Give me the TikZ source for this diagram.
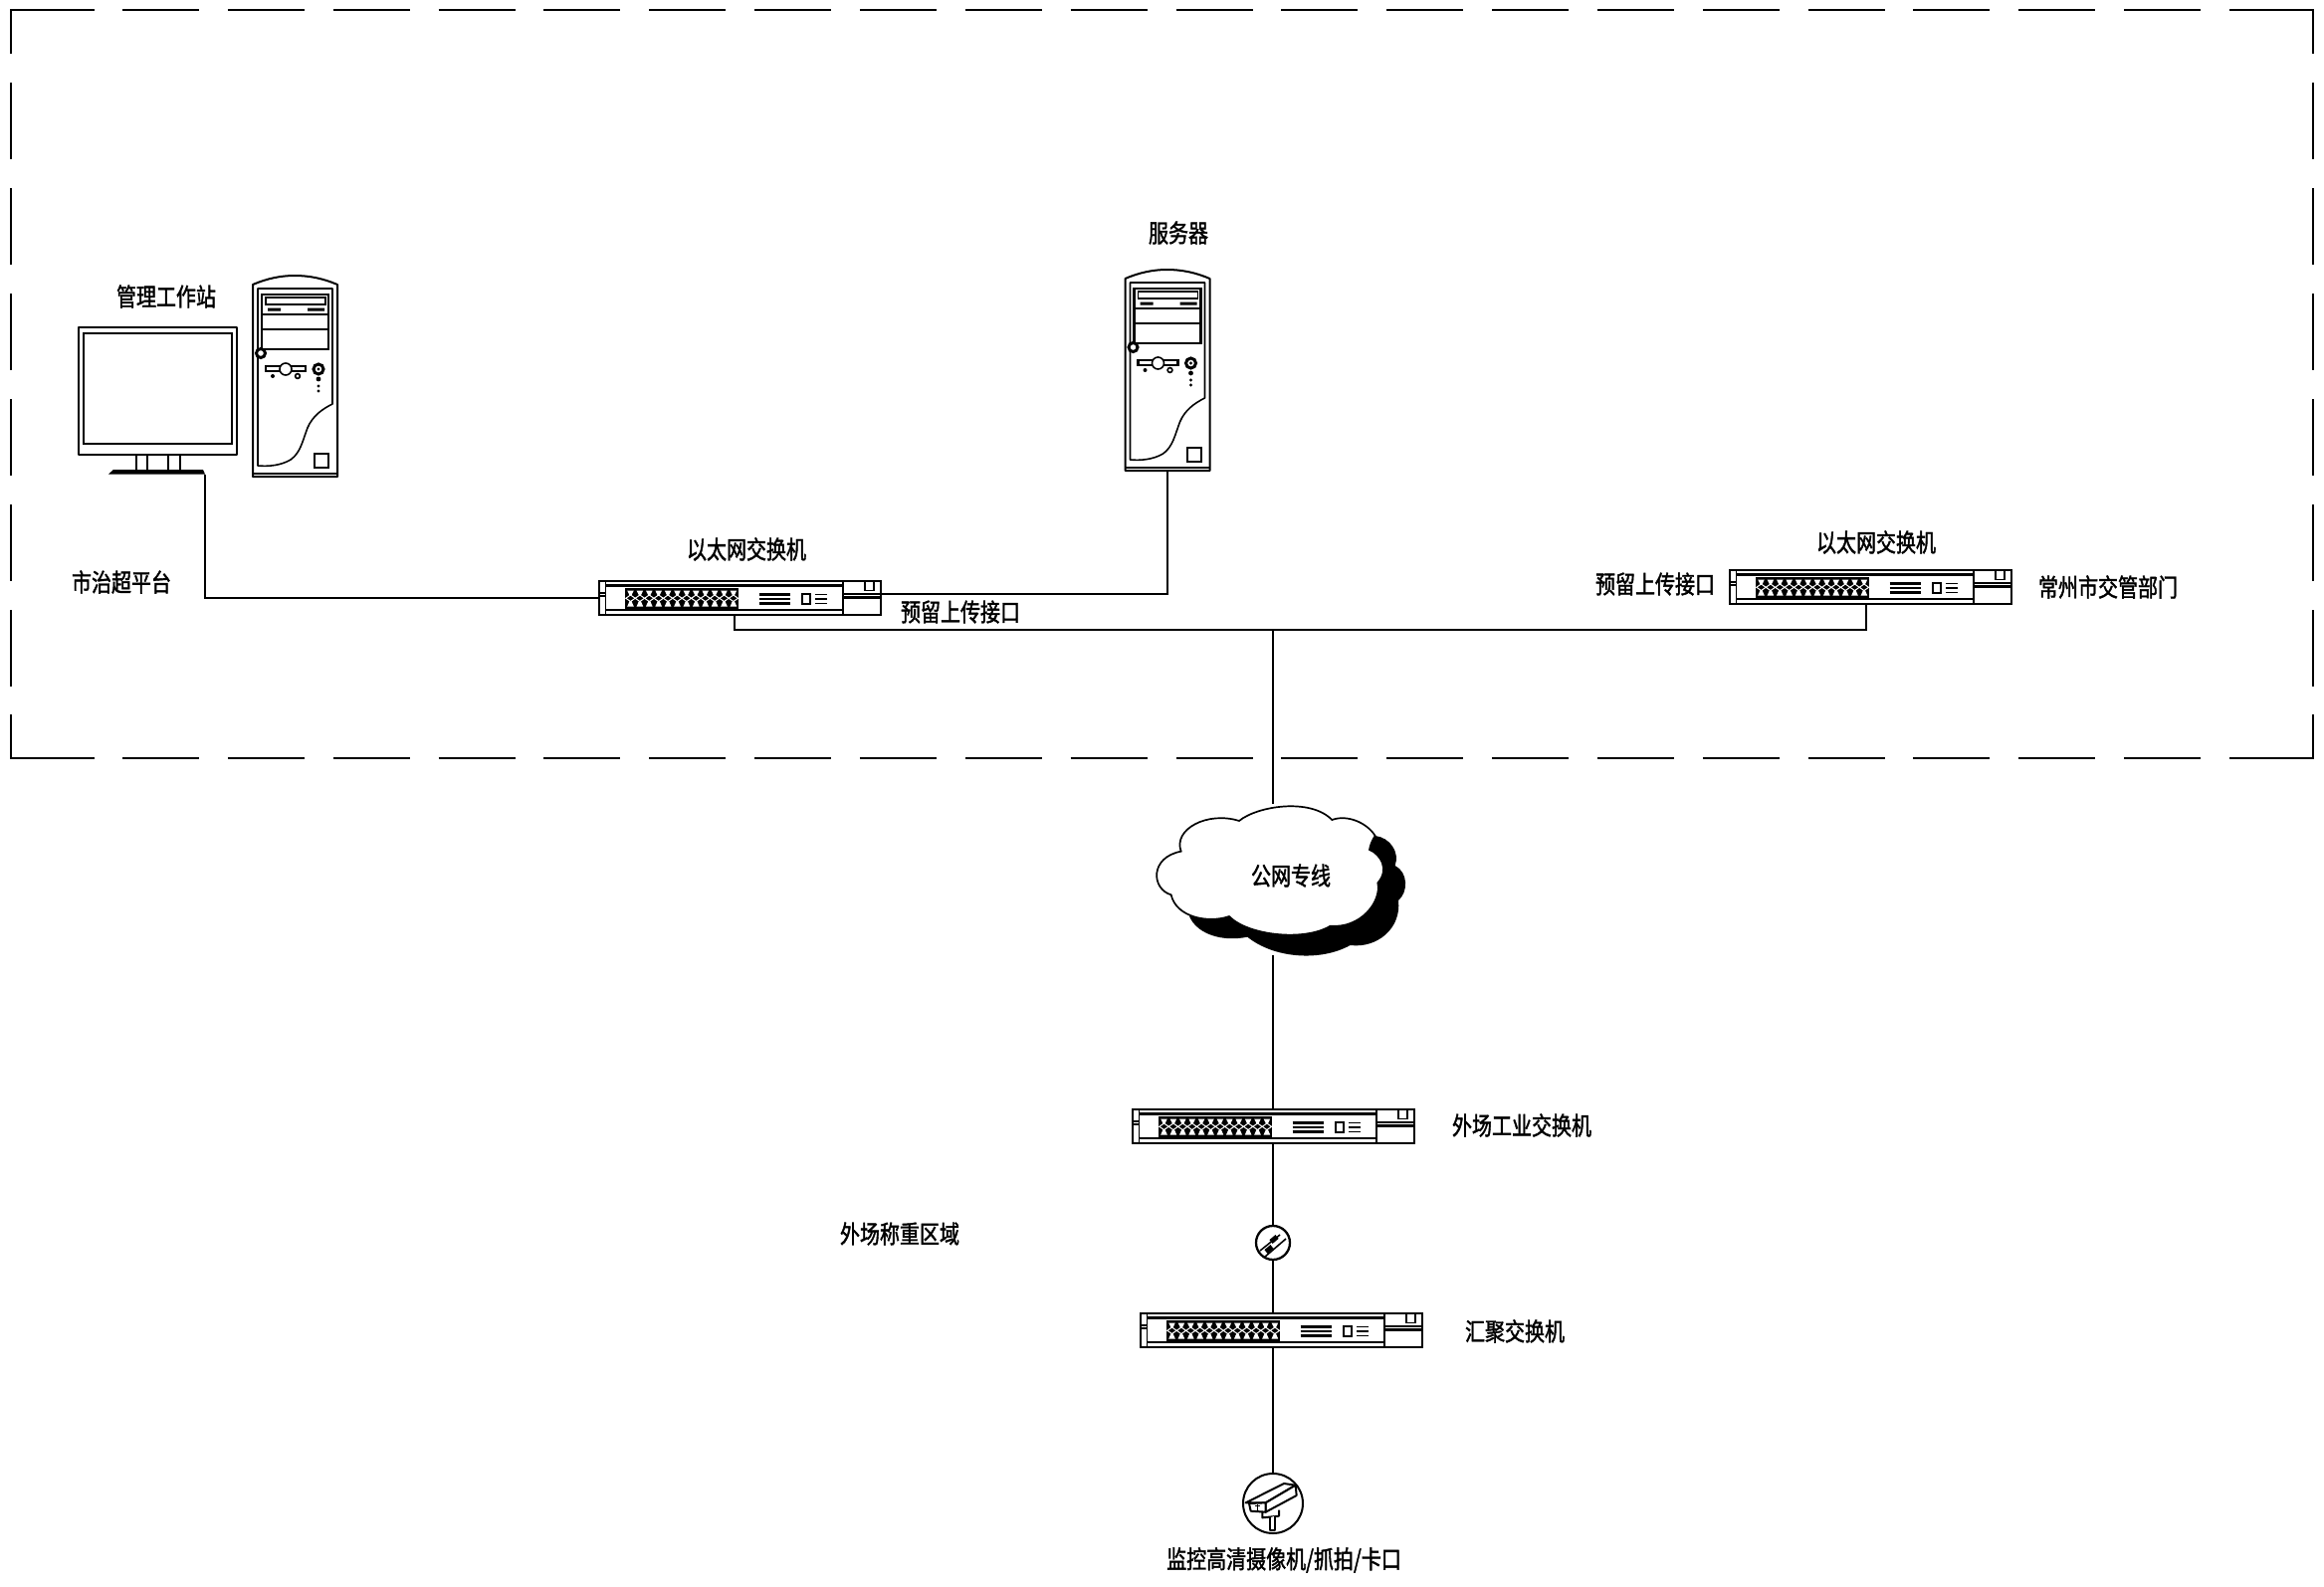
\documentclass[tikz,border=0pt]{standalone}
\usepackage{fontspec}
\newfontfamily\cjk[FakeStretch=0.8,FakeBold=1.6]{Noto Sans CJK SC}
\usetikzlibrary{calc}
\tikzset{
  wire/.style={draw=black,line width=2pt,line join=miter},
  thin part/.style={draw=black,line width=1.6pt},
  heavy part/.style={draw=black,line width=2.3pt},
  label text/.style={font=\cjk\fontsize{25}{25}\selectfont,inner sep=0pt,text=black},
  swbox/.style={minimum width=283pt,minimum height=34pt,inner sep=0pt,outer sep=0pt,anchor=north west},
  towerbox/.style={minimum width=85pt,minimum height=202pt,inner sep=0pt,outer sep=0pt,anchor=north west},
  ringbox/.style={circle,minimum size=34pt,inner sep=0pt,outer sep=0pt},
  switchpic/.pic={
    \draw[heavy part] (0,0) rectangle (283,34);
    \draw[thin part] (6.5,0) -- (6.5,34) (245,0) -- (245,34);
    \draw[thin part] (0,12) -- (6.5,12) (0,15) -- (6.5,15);
    \draw[heavy part] (6.5,4.5) -- (245,4.5);
    \draw[thin part] (6.5,28.7) -- (245,28.7);
    \draw[thin part] (245,13) -- (283,13);
    \draw[heavy part] (245,16.6) -- (283,16.6);
    \draw[thin part] (267,0) rectangle (276,9.5);
    \fill[black] (26,7) rectangle (140,27.7);
    \foreach \i in {0,...,11}{
      \fill[white] ({28.2+9.4*\i},9.5) -- ({34.8+9.4*\i},9.5) -- ({32.4+9.4*\i},14.5) -- ({30.6+9.4*\i},14.5) -- cycle;
      \fill[white] ({30.6+9.4*\i},20) -- ({32.4+9.4*\i},20) -- ({34.8+9.4*\i},25.5) -- ({28.2+9.4*\i},25.5) -- cycle;
      \draw[white,line width=1pt] ({31.5+9.4*\i},14) -- ({36.2+9.4*\i},17.3) -- ({31.5+9.4*\i},20.5);
      \draw[white,line width=1pt] ({31.5+9.4*\i},14) -- ({26.8+9.4*\i},17.3) -- ({31.5+9.4*\i},20.5);
    }
    \draw[heavy part] (160.7,13.6) -- (191.7,13.6) (160.7,18) -- (191.7,18) (160.7,22.4) -- (191.7,22.4);
    \draw[heavy part] (204,13) rectangle (212,22.7);
    \draw[thin part] (217,13.3) -- (229,13.3) (217,17.7) -- (229,17.7) (217,22.3) -- (229,22.3);
  },
  towerpic/.pic={
    \draw[thin part,line width=2pt,line join=round] (0,202) -- (0,9) .. controls (14,3) and (28,0) .. (42,0) .. controls (57,0) and (71,3) .. (85,9) -- (85,202) -- cycle;
    \draw[thin part] (0,198.7) -- (85,198.7);
    \draw[thin part,line join=round] (5,13) -- (80,13) -- (80,129) .. controls (70,134) and (60,141) .. (55,153) .. controls (50,166) and (48,178) .. (38,185) .. controls (28,191) and (15,192) .. (5,191) -- cycle;
    \draw[heavy part,line width=2.8pt] (9,19) rectangle (76,74);
    \draw[heavy part,line width=2.8pt] (9,39) -- (76,39) (9,54) -- (76,54);
    \draw[thin part] (13,22) rectangle (73,29);
    \fill[black] (15,32.5) rectangle (28,35.5) (55,32.5) rectangle (72,35.5);
    \draw[heavy part,line width=3pt,fill=white] (8,78) circle[radius=4.5];
    \draw[heavy part,fill=white] (13,91) rectangle (53,96);
    \draw[thin part,fill=white] (33,94) circle[radius=6];
    \fill[black] (20,101) circle[radius=2];
    \draw[thin part] (45,101) circle[radius=2.4];
    \draw[heavy part,line width=3pt] (66,94) circle[radius=5];
    \fill[black] (66,94) circle[radius=1.6];
    \fill[black] (66,104) circle[radius=2.4] (66,111) circle[radius=1.6] (66,116) circle[radius=1.6];
    \draw[thin part,line width=2pt] (62,179) rectangle (76,193);
  }
}
\begin{document}
\begin{tikzpicture}[x=1pt,y=-1pt]
\useasboundingbox (0,0) rectangle (2335,1595);
\fill[white] (0,0) rectangle (2335,1595);

% dashed area
\draw[wire] (11,54) -- (11,10) -- (95,10);
\draw[wire] (2240,10) -- (2324,10) -- (2324,54);
\draw[wire] (11,718) -- (11,762) -- (95,762);
\draw[wire] (2240,762) -- (2324,762) -- (2324,718);
\draw[wire,dash pattern=on 77pt off 28.85pt] (123,10) -- (2212,10);
\draw[wire,dash pattern=on 77pt off 28.85pt] (123,762) -- (2212,762);
\draw[wire,dash pattern=on 77pt off 29pt] (11,83) -- (11,690);
\draw[wire,dash pattern=on 77pt off 29pt] (2324,83) -- (2324,690);

% devices
\node[towerbox] (pc) at (254,277) {};
\pic at (pc.north west) {towerpic};
\node[towerbox] (srv) at (1130.5,271) {};
\pic at (srv.north west) {towerpic};

\node[minimum width=160pt,minimum height=149pt,inner sep=0pt,outer sep=0pt,anchor=north west] (mon) at (79,329) {};
\draw[thin part,line width=2pt,line join=round] (79,329) rectangle (238,457);
\draw[heavy part,line width=2.8pt] (84,335) rectangle (233,446);
\draw[heavy part] (137,457) -- (137,472) (148,457) -- (148,472) (169,457) -- (169,472) (181,457) -- (181,472);
\fill[black] (114,472) -- (204,472) -- (206,476.5) -- (109,476.5) -- cycle;
\coordinate (monout) at (206,477);

\node[swbox] (s1) at (602,584) {};
\pic at (s1.north west) {switchpic};
\node[swbox] (s2) at (1738,573) {};
\pic at (s2.north west) {switchpic};
\node[swbox] (s3) at (1138,1115) {};
\pic at (s3.north west) {switchpic};
\node[swbox] (s4) at (1146,1320) {};
\pic at (s4.north west) {switchpic};

\coordinate (s1r) at (885,597);
\coordinate (s1b) at (738,618);
\coordinate (s2b) at (1875,607);
\coordinate (busl) at (738,633);
\coordinate (busr) at (1875,633);
\coordinate (bus) at (1279,633);

% cloud
\node[minimum width=2pt,minimum height=152pt,inner sep=0pt,outer sep=0pt] (cl) at (1279,884) {};
\begin{scope}[shift={(1140,790)},x=0.3333pt,y=-0.3333pt]
\fill[black] (700,140) -- (725,150) .. controls (770,155) and (800,200) .. (785,240) .. controls (825,260) and (825,320) .. (795,345) .. controls (805,430) and (730,490) .. (650,480) .. controls (560,530) and (420,520) .. (340,455) .. controls (270,470) and (190,450) .. (165,393) -- cycle;
\draw[wire,fill=white,line width=1.7pt] (315,105) .. controls (370,60) and (530,35) .. (595,102) .. controls (640,85) and (700,110) .. (725,150) .. controls (715,165) and (710,180) .. (708,192) .. controls (740,205) and (770,250) .. (733,292) .. controls (745,350) and (680,430) .. (590,422) .. controls (510,470) and (340,450) .. (285,393) .. controls (220,415) and (125,395) .. (110,328) .. controls (50,310) and (45,215) .. (140,197) .. controls (115,130) and (220,75) .. (315,105) -- cycle;
\end{scope}

% inline connector symbol
\node[ringbox] (lk) at (1279,1249) {};
\draw[heavy part] (lk) circle[radius=17];
\draw[thin part] (1266,1257) -- (1286,1241) (1271,1263) -- (1292,1245);
\draw[black,line width=5pt] (1277,1248) -- (1283,1243) (1272,1258) -- (1278,1253);

% camera
\node[circle,minimum size=60pt,inner sep=0pt,outer sep=0pt] (cam) at (1279,1511) {};
\draw[wire] (cam) circle[radius=30];
\begin{scope}[shift={(1280,1511)},x=0.3333pt,y=-0.3333pt]
\draw[wire,fill=white,line join=round] (-35,26) -- (-35,43) -- (15,38) -- (15,20);
\draw[wire,fill=white,line join=round] (-12,43) -- (-12,80) -- (2,80) -- (2,38);
\draw[wire,fill=white,line join=round] (-85,-2) -- (30,-60) -- (65,-55) -- (-25,-2) -- cycle;
\draw[wire,fill=white,line join=round] (-25,-2) -- (65,-55) -- (68,-24) -- (-25,26) -- cycle;
\draw[wire,fill=white,line join=round] (-75,0) -- (-25,-2) -- (-25,26) -- (-70,23) -- cycle;
\draw[thin part] (-50,2) -- (-50,22) (-58,8) -- (-42,8);
\end{scope}

% connectors
\draw[wire] (monout) |- (s1.west);
\draw[wire] (srv.south) |- (s1r);
\draw[wire] (s1b) -- (busl) -- (busr) -- (s2b);
\draw[wire] (bus) -- (cl.north);
\draw[wire] (cl.south) -- (cl.south |- s3.north);
\draw[wire] (cl.south |- s3.south) -- (lk.north);
\draw[wire] (lk.south) -- (lk.south |- s4.north);
\draw[wire] (cam.north |- s4.south) -- (cam.north);

% labels
\node[label text] (t1) at (167,298) {管理工作站};
\node[label text] (t2) at (1184,234) {服务器};
\node[label text] (t3) at (750,552) {以太网交换机};
\node[label text] (t4) at (965,615) {预留上传接口};
\node[label text] (t5) at (122,585) {市治超平台};
\node[label text] (t6) at (1885,545) {以太网交换机};
\node[label text] (t7) at (1663,587) {预留上传接口};
\node[label text] (t8) at (2118,590) {常州市交管部门};
\node[label text] (t9) at (1297,880) {公网专线};
\node[label text] (t10) at (1529,1131) {外场工业交换机};
\node[label text] (t11) at (904,1240) {外场称重区域};
\node[label text] (t12) at (1522,1338) {汇聚交换机};
\node[label text] (t13) at (1290,1568) {监控高清摄像机/抓拍/卡口};
\end{tikzpicture}
\end{document}
